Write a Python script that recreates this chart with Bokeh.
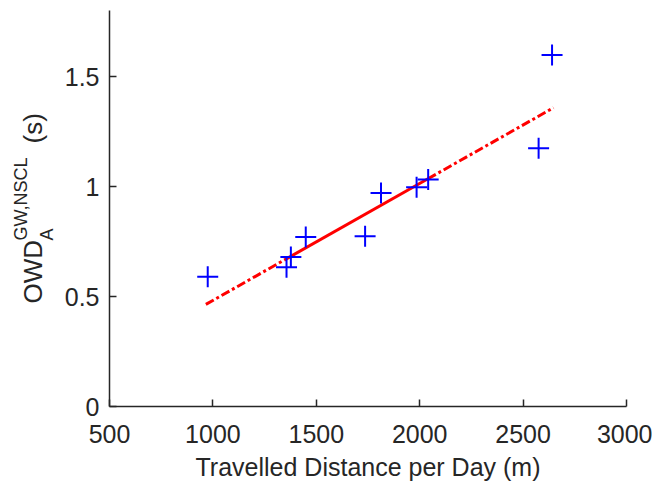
import math
from bokeh.plotting import figure
from bokeh.models import Range1d, FixedTicker, CustomJSTickFormatter, Label
from bokeh.embed import file_html
from bokeh.resources import INLINE

# data
dist = [975, 1356, 1377, 1449, 1736, 1813, 1985, 2041, 2575, 2640]
owd = [0.59, 0.633, 0.679, 0.770, 0.774, 0.970, 0.997, 1.032, 1.174, 1.598]
fit_left_x = [966, 1370]
fit_left_y = [0.464, 0.679]
fit_mid_x = [1370, 2040]
fit_mid_y = [0.679, 1.035]
fit_right_x = [2040, 2647]
fit_right_y = [1.035, 1.358]
x_ticks = [500, 1000, 1500, 2000, 2500, 3000]
y_ticks = [0, 0.5, 1, 1.5]
x_lim = (500, 3000)
y_lim = (0, 1.8)
x_title = "Travelled Distance per Day (m)"

FONT = "Liberation Sans"
GREY = "#262626"

# layout (pixels) of the axes box inside the canvas
AX_LEFT, AX_TOP, aw, ah = 109, 10, 517, 396
W, H = 652, 484
# the plotting frame covers the whole canvas so that no text is clipped
sx = (x_lim[1] - x_lim[0]) / aw
sy = (y_lim[1] - y_lim[0]) / ah
x_range = Range1d(x_lim[0] - AX_LEFT * sx, x_lim[1] + (W - AX_LEFT - aw) * sx)
y_range = Range1d(y_lim[0] - (H - AX_TOP - ah) * sy, y_lim[1] + AX_TOP * sy)

p = figure(width=W, height=H, output_backend="svg", toolbar_location=None,
           x_range=x_range, y_range=y_range, min_border=0)
p.outline_line_color = None
p.grid.visible = False
p.background_fill_color = "white"
p.border_fill_color = "white"

for ax in (p.xaxis[0], p.yaxis[0]):
    ax.axis_line_color = GREY
    ax.axis_line_width = 1.5
    ax.major_tick_line_color = GREY
    ax.major_tick_line_width = 1.5
    ax.major_tick_in = 7
    ax.major_tick_out = 0
    ax.minor_tick_line_color = None
    ax.major_label_text_font = FONT
    ax.major_label_text_font_size = "25px"
    ax.major_label_text_color = GREY

p.xaxis.bounds = x_lim
p.yaxis.bounds = y_lim
p.xaxis.fixed_location = y_lim[0]
p.yaxis.fixed_location = x_lim[0]
p.xaxis.ticker = FixedTicker(ticks=x_ticks)
p.yaxis.ticker = FixedTicker(ticks=y_ticks)
p.yaxis.formatter = CustomJSTickFormatter(code="return String(tick);")
p.xaxis.major_label_standoff = 18
p.yaxis.major_label_standoff = 10

# fit line
p.line(fit_left_x, fit_left_y, line_color="red", line_width=3, line_dash="9 3 3 3")
p.line(fit_mid_x, fit_mid_y, line_color="red", line_width=3)
p.line(fit_right_x, fit_right_y, line_color="red", line_width=3, line_dash="9 3 3 3")

# samples
p.scatter(dist, owd, marker="cross", size=21, line_color="blue", line_width=2)

# label anchors sit about 0.37 em above the baseline in this renderer
SHIFT = 0.37

# x axis title, centred under the axis, baseline at y=476 px
p.add_layout(Label(x=(x_lim[0] + x_lim[1]) / 2, y=H - (476 - SHIFT * 25), y_units="screen",
                   text=x_title, text_align="center", text_baseline="alphabetic",
                   text_font=FONT, text_font_size="25px", text_color=GREY))

# rotated y label built from pieces; screen units are frame-relative
def piece(txt, base_px, start_py, fs):
    p.add_layout(Label(x=base_px - SHIFT * fs, y=H - start_py,
                       x_units="screen", y_units="screen",
                       text=txt, angle=math.pi / 2,
                       text_align="left", text_baseline="alphabetic",
                       text_font=FONT, text_font_size=f"{fs}px", text_color=GREY))

big, small = 26, 18
piece("OWD", 42, 303, big)
piece("A", 53, 240, small)
piece("GW,NSCL", 27, 240, small)
piece("(s)", 42, 143, big)

open("out.html", "w").write(file_html(p, INLINE))
